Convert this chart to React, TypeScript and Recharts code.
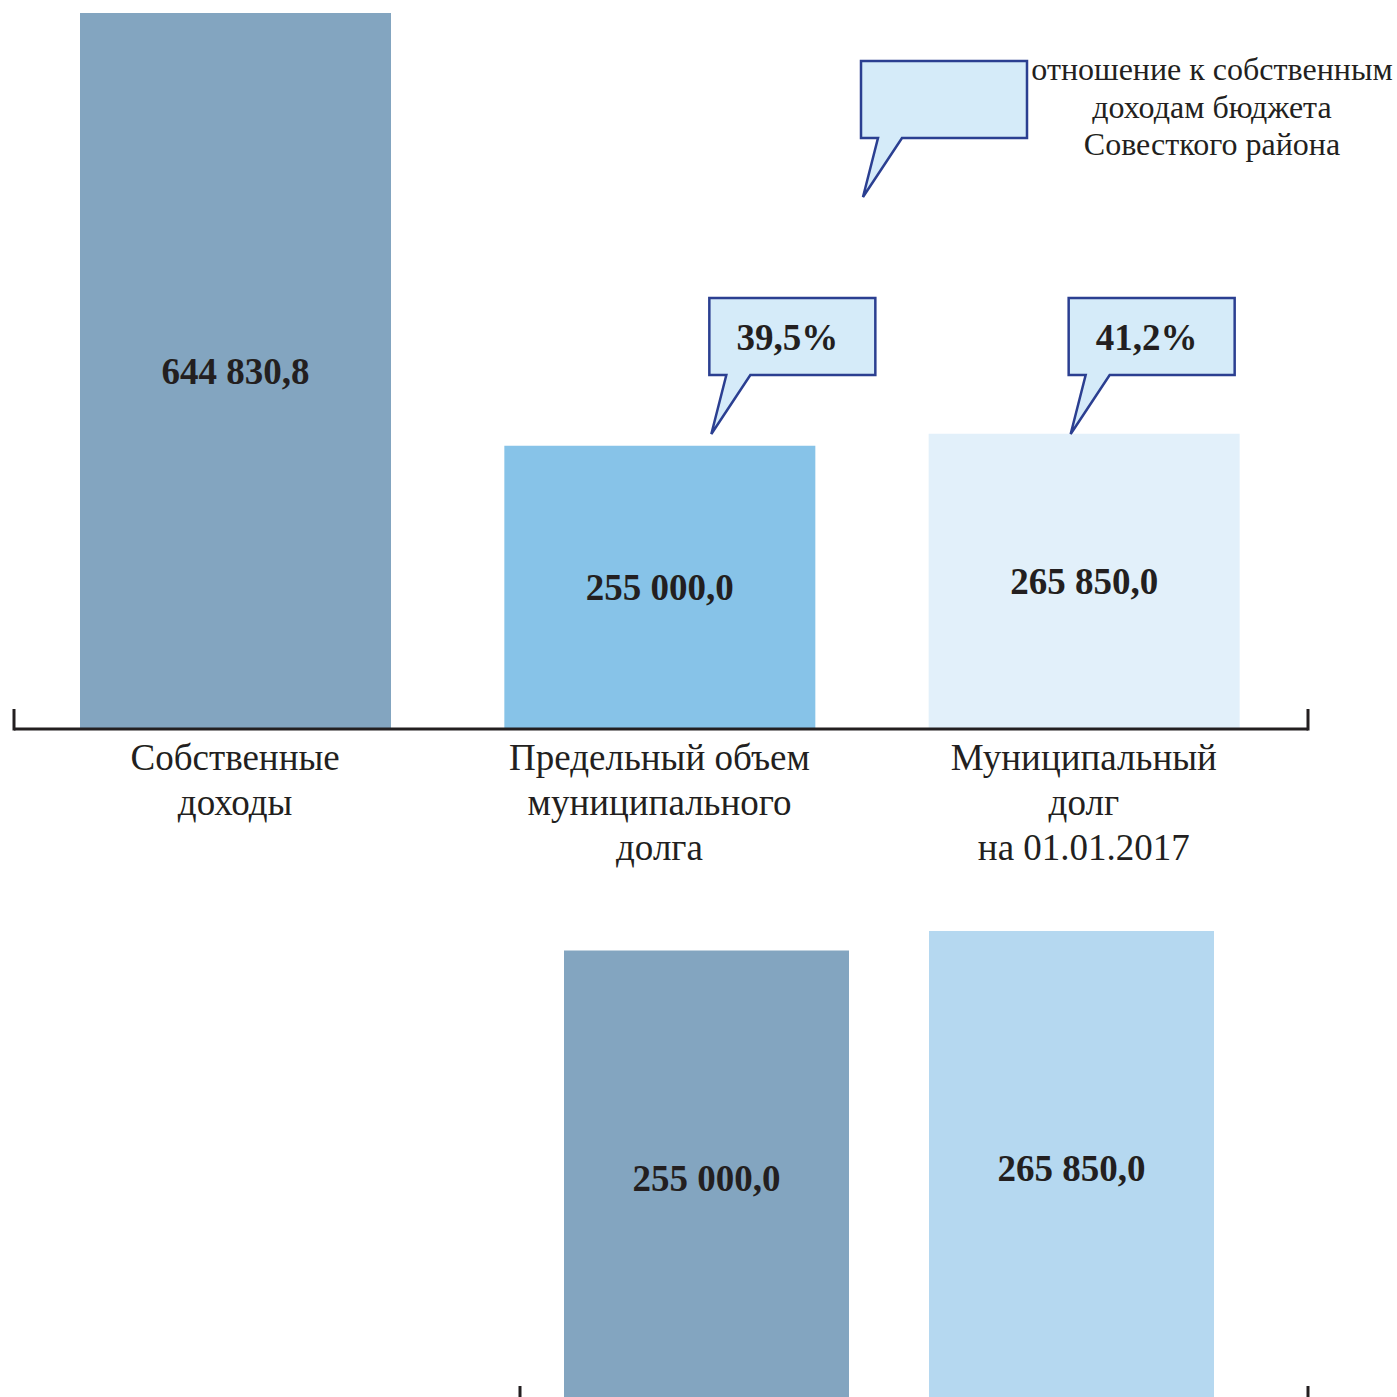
import { Bar, BarChart, Cell, LabelList, XAxis, YAxis } from "recharts";

const categories = [
  "Собственные\nдоходы",
  "Предельный объем\nмуниципального\nдолга",
  "Муниципальный\nдолг\nна 01.01.2017"
];
const amounts = [644830.8, 255000.0, 265850.0];
const shares = ["", "39,5%", "41,2%"];
const topColors = ["#83a5c0", "#87c3e8", "#e2f0fa"];

const debtCategories = [categories[1], categories[2]];
const debtAmounts = [255000.0, 265850.0];
const debtColors = ["#83a5c0", "#b5d8f0"];

const legendLines = ["отношение к собственным", "доходам бюджета", "Совесткого района"];

const INK = "#231f20";
const BUBBLE_FILL = "#d5ebf9";
const BUBBLE_STROKE = "#2b3f91";
const SERIF = "'Liberation Serif', 'Times New Roman', serif";

const W = 1397;
const TOP_H = 880;
const TOP_MARGIN = { top: 13, left: 14, right: 89, bottom: 0 };
const TOP_AXIS_Y = 729;
const LOW_TOP = 900;
const LOW_H = 560;
const LOW_MARGIN = { top: 31, left: 520, right: 89, bottom: 0 };
const LOW_AXIS_Y = LOW_TOP + LOW_H - 54;

// callout tip: horizontal shift from the bar's left edge, fixed height
const CALLOUT_DX = [0, 205, 140];
const TIP_Y = 434;

const topData = categories.map((name, i) => ({ name, amount: amounts[i], share: shares[i] }));
const lowData = debtCategories.map((name, i) => ({ name, amount: debtAmounts[i] }));

function formatAmount(v: number) {
  const [int, dec] = v.toFixed(1).split(".");
  return int.replace(/\B(?=(\d{3})+(?!\d))/g, " ") + "," + dec;
}

function bubblePath(rx: number, ry: number) {
  return `M${rx},${ry} H${rx + 166} V${ry + 77} H${rx + 41} L${rx + 2},${ry + 136} L${rx + 17},${ry + 77} H${rx} Z`;
}

function CategoryTick({ x, y, payload }: any) {
  const lines = String(payload.value).split("\n");
  return (
    <text x={x} y={y} textAnchor="middle" fill={INK} fontSize={37} fontFamily={SERIF}>
      {lines.map((line, i) => (
        <tspan key={i} x={x} dy={i === 0 ? 41 : 45}>
          {line}
        </tspan>
      ))}
    </text>
  );
}

function AmountLabel({ x, y, width, height, value }: any) {
  return (
    <text
      x={x + width / 2}
      y={y + height / 2}
      textAnchor="middle"
      dominantBaseline="central"
      fill={INK}
      fontSize={37}
      fontWeight="bold"
      fontFamily={SERIF}
    >
      {formatAmount(Number(value))}
    </text>
  );
}

function CalloutLabel({ x, index, value }: any) {
  if (!value) return null;
  const rx = x + (CALLOUT_DX[index] ?? 0);
  const ry = TIP_Y - 136;
  return (
    <g>
      <path d={bubblePath(rx, ry)} fill={BUBBLE_FILL} stroke={BUBBLE_STROKE} strokeWidth={2.5} strokeLinejoin="miter" />
      <text
        x={rx + 78}
        y={ry + 39}
        textAnchor="middle"
        dominantBaseline="central"
        fill={INK}
        fontSize={37}
        fontWeight="bold"
        fontFamily={SERIF}
      >
        {value}
      </text>
    </g>
  );
}

function EndTicks({ y, left, right }: { y: number; left: number; right: number }) {
  return (
    <>
      <line x1={left} x2={left} y1={y - 20} y2={y + 1.5} stroke={INK} strokeWidth={3} />
      <line x1={right} x2={right} y1={y - 20} y2={y + 1.5} stroke={INK} strokeWidth={3} />
    </>
  );
}

export default function App() {
  return (
    <div
      style={{
        position: "absolute",
        left: 0,
        top: 0,
        width: W,
        height: 1397,
        overflow: "hidden",
        background: "#fff"
      }}
    >
      <div style={{ position: "absolute", left: 0, top: 0 }}>
        <BarChart width={W} height={TOP_H} data={topData} margin={TOP_MARGIN}>
          <YAxis hide domain={[0, amounts[0]]} />
          <XAxis
            dataKey="name"
            height={TOP_H - TOP_AXIS_Y}
            padding={{ left: 9, right: 12 }}
            axisLine={{ stroke: INK, strokeWidth: 3 }}
            tickLine={false}
            tickSize={0}
            tickMargin={0}
            interval={0}
            tick={<CategoryTick />}
          />
          <Bar dataKey="amount" barSize={311} isAnimationActive={false}>
            {topData.map((d, i) => (
              <Cell key={d.name} fill={topColors[i]} />
            ))}
            <LabelList dataKey="amount" content={<AmountLabel />} />
            <LabelList dataKey="share" content={<CalloutLabel />} />
          </Bar>
        </BarChart>
      </div>

      <div style={{ position: "absolute", left: 0, top: LOW_TOP }}>
        <BarChart width={W} height={LOW_H} data={lowData} margin={LOW_MARGIN}>
          <YAxis hide domain={[0, debtAmounts[1]]} />
          <XAxis
            dataKey="name"
            height={54}
            padding={{ left: 4, right: 54 }}
            axisLine={{ stroke: INK, strokeWidth: 3 }}
            tickLine={false}
            tickSize={0}
            tick={false}
          />
          <Bar dataKey="amount" barSize={285} isAnimationActive={false}>
            {lowData.map((d, i) => (
              <Cell key={d.name} fill={debtColors[i]} />
            ))}
            <LabelList dataKey="amount" content={<AmountLabel />} />
          </Bar>
        </BarChart>
      </div>

      <svg
        width={W}
        height={1397}
        style={{ position: "absolute", left: 0, top: 0, pointerEvents: "none" }}
      >
        <EndTicks y={TOP_AXIS_Y} left={TOP_MARGIN.left} right={W - TOP_MARGIN.right} />
        <EndTicks y={LOW_AXIS_Y} left={LOW_MARGIN.left} right={W - LOW_MARGIN.right} />
        <path d={bubblePath(861, 61)} fill={BUBBLE_FILL} stroke={BUBBLE_STROKE} strokeWidth={2.5} />
        <text textAnchor="middle" fill={INK} fontSize={32} fontFamily={SERIF}>
          {legendLines.map((line, i) => (
            <tspan key={i} x={1212} y={80 + i * 37.5}>
              {line}
            </tspan>
          ))}
        </text>
      </svg>
    </div>
  );
}
